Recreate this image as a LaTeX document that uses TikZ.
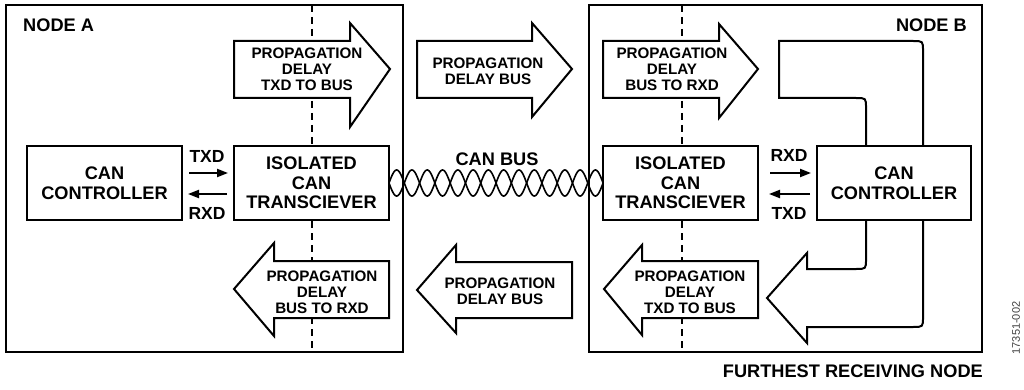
\documentclass[tikz,border=0pt]{standalone}
\usepackage{fontspec}
\setmainfont{Liberation Sans}
\usetikzlibrary{arrows.meta,calc}
\tikzset{
  frame/.style={draw, line width=2pt},
  blk/.style={draw, line width=2pt, fill=white},
  bigtxt/.style={font=\bfseries\fontsize{18.2}{19.5}\selectfont, align=center, inner sep=0pt},
  arrtxt/.style={font=\bfseries\fontsize{15.2}{15.8}\selectfont, align=center, inner sep=0pt},
  sig/.style={font=\bfseries\fontsize{17.5}{18}\selectfont, inner sep=0pt},
  fat/.style={draw, line width=2pt, fill=white, line join=miter},
  dashln/.style={line width=2pt, dash pattern=on 7pt off 5pt},
  wire/.style={line width=1.6pt},
  sigarrow/.style={line width=2pt, -{Triangle[length=11pt,width=8pt]}}
}
\begin{document}
\begin{tikzpicture}[x=1pt,y=-1pt]
\useasboundingbox (0,0) rectangle (1024,390);
% outer node frames
\draw[frame] (6,5) rectangle (403,352);
\draw[frame] (589,5) rectangle (982,352);
\node[bigtxt, anchor=west] (nodeA) at (23,25) {NODE A};
\node[bigtxt, anchor=east] (nodeB) at (967,25) {NODE B};
% dashed isolation lines
\draw[dashln] (312,5) -- (312,352);
\draw[dashln] (682,5) -- (682,352);
% propagation arrows
\draw[fat] (234,41)--(350,41)--(350,23)--(390,69)--(350,127)--(350,98)--(234,98)--cycle;
\draw[fat] (417,41)--(532,41)--(532,23)--(572,69)--(532,117)--(532,98)--(417,98)--cycle;
\draw[fat] (603,41)--(719,41)--(719,24)--(758,69)--(719,118)--(719,98)--(603,98)--cycle;
\draw[fat] (389,261)--(274,261)--(274,243)--(234,289)--(274,336)--(274,318)--(389,318)--cycle;
\draw[fat] (572,262)--(456,262)--(456,245)--(417,290)--(456,333)--(456,318)--(572,318)--cycle;
\draw[fat] (758,261)--(642,261)--(642,245)--(604,289)--(642,335)--(642,318)--(758,318)--cycle;
% U-turn arrow in node B
\draw[fat] (779,98) -- (779,41) -- (913,41) .. controls (923,41) .. (923,51)
  -- (923,317) .. controls (923,327) .. (913,327) -- (807,327) -- (807,343)
  -- (767,298) -- (807,253) -- (807,269) -- (856,269) .. controls (866,269) .. (866,259)
  -- (866,108) .. controls (866,98) .. (856,98) -- cycle;
\node[arrtxt] (pA1) at (307,69) {PROPAGATION\\DELAY\\TXD TO BUS};
\node[arrtxt] (pM1) at (488,71) {PROPAGATION\\DELAY BUS};
\node[arrtxt] (pB1) at (672,69) {PROPAGATION\\DELAY\\BUS TO RXD};
\node[arrtxt] (pA2) at (322,292) {PROPAGATION\\DELAY\\BUS TO RXD};
\node[arrtxt] (pM2) at (500,291) {PROPAGATION\\DELAY BUS};
\node[arrtxt] (pB2) at (690,292) {PROPAGATION\\DELAY\\TXD TO BUS};
% blocks
\node[blk, bigtxt, minimum width=155pt, minimum height=74pt] (ctrlA) at (104.5,183) {CAN\\CONTROLLER};
\node[blk, bigtxt, minimum width=155pt, minimum height=74pt] (trA) at (311.5,183) {ISOLATED\\CAN\\TRANSCIEVER};
\node[blk, bigtxt, minimum width=155pt, minimum height=74pt] (trB) at (680.5,183) {ISOLATED\\CAN\\TRANSCIEVER};
\node[blk, bigtxt, minimum width=154pt, minimum height=74pt] (ctrlB) at (894,183) {CAN\\CONTROLLER};
% signals node A
\draw[sigarrow] ($(ctrlA.east)+(6,-10)$) -- ($(trA.west)+(-5,-10)$);
\draw[sigarrow] ($(trA.west)+(-6,11)$) -- ($(ctrlA.east)+(5,11)$);
\node[sig] (txdA) at (207,156) {TXD};
\node[sig] (rxdA) at (207,213) {RXD};
% signals node B
\draw[sigarrow] ($(trB.east)+(11,-10)$) -- ($(ctrlB.west)+(-5,-10)$);
\draw[sigarrow] ($(ctrlB.west)+(-6,11)$) -- ($(trB.east)+(10,11)$);
\node[sig] (rxdB) at (789,155) {RXD};
\node[sig] (txdB) at (789,213) {TXD};
% CAN bus twisted pair
\draw[wire] plot[domain=0:214, samples=400] ({389+\x}, {183 + 13*sin(11.772*\x)});
\draw[wire] plot[domain=0:214, samples=400] ({389+\x}, {183 - 13*sin(11.772*\x)});
\node[bigtxt] (canbus) at (497,159) {CAN BUS};
% labels
\node[bigtxt, anchor=east] (furthest) at (983,371) {FURTHEST RECEIVING NODE};
\node[font=\fontsize{11}{11}\selectfont, text=black!75, rotate=90, inner sep=0pt] (fig) at (1016,328) {17351-002};
\end{tikzpicture}
\end{document}
